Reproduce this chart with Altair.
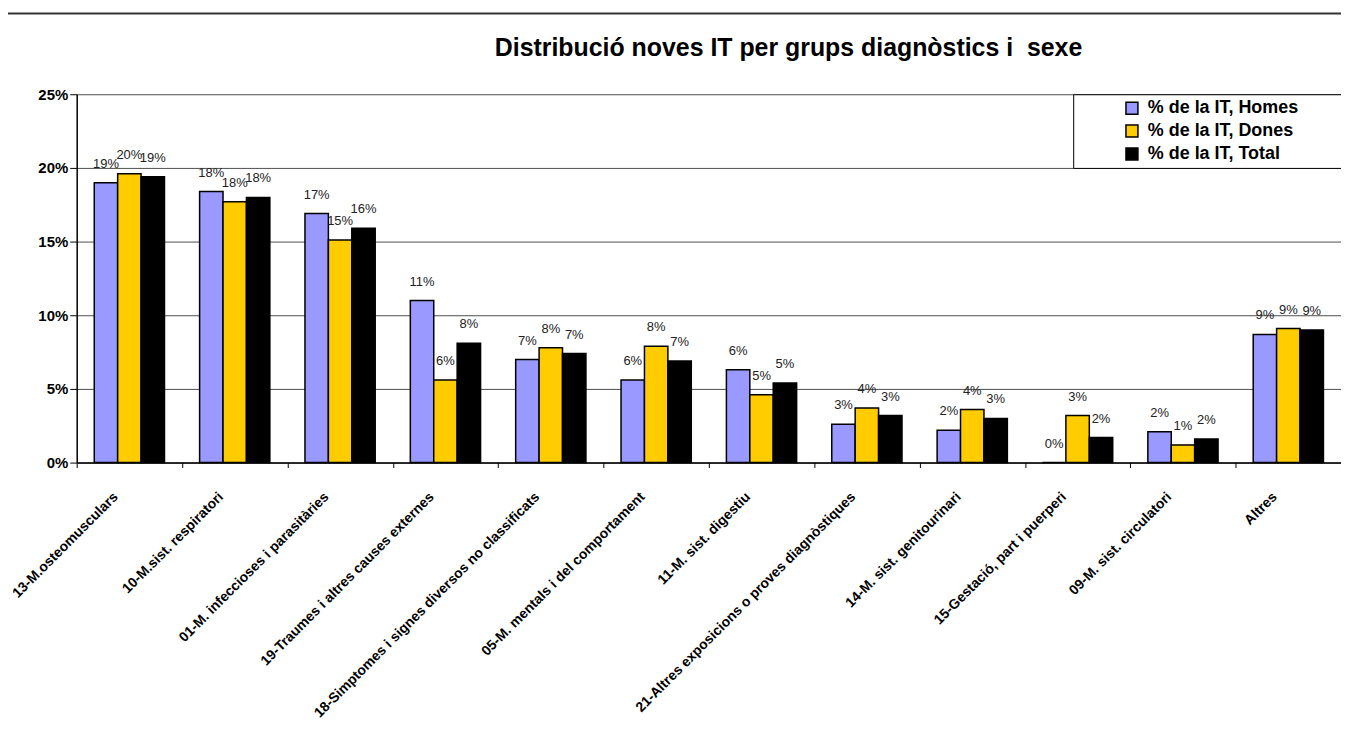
import altair as alt
import pandas as pd

categories = [
    "13-M.osteomusculars",
    "10-M.sist. respiratori",
    "01-M. infeccioses i parasitàries",
    "19-Traumes i altres causes externes",
    "18-Simptomes i signes diversos no classificats",
    "05-M. mentals i del comportament",
    "11-M. sist. digestiu",
    "21-Altres exposicions o proves diagnòstiques",
    "14-M. sist. genitourinari",
    "15-Gestació, part i puerperi",
    "09-M. sist. circulatori",
    "Altres",
]
series = ["% de la IT, Homes", "% de la IT, Dones", "% de la IT, Total"]
homes = [0.190, 0.184, 0.169, 0.110, 0.070, 0.056, 0.063, 0.026, 0.022, 0.000, 0.021, 0.087]
dones = [0.196, 0.177, 0.151, 0.056, 0.078, 0.079, 0.046, 0.037, 0.036, 0.032, 0.012, 0.091]
total = [0.194, 0.180, 0.159, 0.081, 0.074, 0.069, 0.054, 0.032, 0.030, 0.017, 0.016, 0.090]
colors = ["#9999FF", "#FFCC00", "#000000"]
title_text = "Distribució noves IT per grups diagnòstics i \u00a0sexe"
y_ticks = [0, 0.05, 0.10, 0.15, 0.20, 0.25]

rows = []
for s, vals in zip(series, [homes, dones, total]):
    for c, v in zip(categories, vals):
        rows.append({"cat": c, "serie": s, "value": v})
df = pd.DataFrame(rows)

FONT = "Liberation Sans"
pad_right = "\u00a0" * 8 + "\u200b"

x = alt.X(
    "cat:N",
    sort=categories,
    scale=alt.Scale(paddingInner=0, paddingOuter=0),
    axis=alt.Axis(
        title=None, labelAngle=-45, labelAlign="right", labelBaseline="middle",
        labelFont=FONT, labelFontSize=14, labelFontWeight="bold", labelColor="#000",
        labelPadding=27, labelOffset=-14, labelOverlap=False, labelLimit=500,
        tickBand="extent", tickSize=5, tickColor="#000",
        domainColor="#000", domainWidth=1.5, grid=False,
    ),
)
xoff = alt.XOffset("serie:N", sort=series, scale=alt.Scale(paddingInner=0, paddingOuter=0.75))
y = alt.Y(
    "value:Q",
    scale=alt.Scale(domain=[0, 0.25], nice=False),
    axis=alt.Axis(
        title=None, format=".0%", values=y_ticks,
        labelFont=FONT, labelFontSize=15, labelFontWeight="bold", labelColor="#000",
        tickSize=7, tickColor="#000", labelPadding=2,
        domainColor="#000", domainWidth=1.5, gridColor="#4d4d4d", gridWidth=1,
    ),
)
color = alt.Color(
    "serie:N",
    sort=series,
    scale=alt.Scale(domain=series, range=colors),
    legend=alt.Legend(
        orient="none", legendX=1001, legendY=0, title=None, direction="vertical",
        strokeColor="#000", fillColor="#fff", padding=5,
        symbolOffset=45, labelOffset=7, rowPadding=5,
        symbolType="square", symbolSize=144, symbolStrokeColor="#000", symbolStrokeWidth=1.5,
        labelFont=FONT, labelFontSize=18, labelFontWeight="bold", labelColor="#000",
        labelLimit=500, labelExpr=f"datum.label + '{pad_right}'",
    ),
)

bars = alt.Chart(df).mark_bar(stroke="#000", strokeWidth=1.5).encode(x=x, xOffset=xoff, y=y, color=color)
labels = alt.Chart(df).mark_text(dy=-19, fontSize=13, font=FONT, color="#222").encode(
    x=x, xOffset=xoff, y=y, text=alt.Text("value:Q", format=".0%")
)
title_layer = alt.Chart(alt.Data(values=[{"t": title_text}])).mark_text(
    font=FONT, fontSize=25, fontWeight="bold", color="#000", align="center", baseline="middle"
).encode(text="t:N", x=alt.value(715), y=alt.value(-46))
top_rule = alt.Chart(alt.Data(values=[{"k": 0}])).mark_rule(color="#333", strokeWidth=2).encode(
    x=alt.value(-69), x2=alt.value(1290), y=alt.value(-81)
)

chart = alt.layer(top_rule, bars, labels, title_layer).properties(
    width=1270, height=370,
    autosize=alt.AutoSizeParams(type="none"),
    padding={"left": 69, "top": 85, "right": 0, "bottom": 270},
).configure_view(stroke=None)

chart.save("out.html", embed_options={"renderer": "svg", "actions": False})
